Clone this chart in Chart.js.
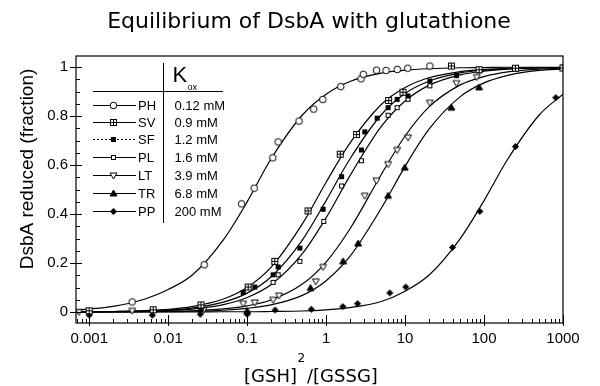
<!DOCTYPE html>
<html><head><meta charset="utf-8">
<script src="https://cdn.jsdelivr.net/npm/chart.js@4/dist/chart.umd.min.js"></script>
<style>html,body{margin:0;padding:0;background:#fff}#wrap{width:600px;height:386px;position:relative}</style>
</head><body><div id="wrap"><canvas id="c" width="600" height="386"></canvas></div>
<script>
// ---- data ----
const SERIES_NAMES = ['PH', 'SV', 'SF', 'PL', 'LT', 'TR', 'PP'];
const KOX_LABELS = ['0.12 mM', '0.9 mM', '1.2 mM', '1.6 mM', '3.9 mM', '6.8 mM', '200 mM'];

const X_TICKS = [0.001, 0.01, 0.1, 1, 10, 100, 1000];
const X_TICK_LABELS = ['0.001', '0.01', '0.1', '1', '10', '100', '1000'];
const Y_TICKS = [0, 0.2, 0.4, 0.6, 0.8, 1];
const Y_TICK_LABELS = ['0', '0.2', '0.4', '0.6', '0.8', '1'];

// measured points
const PH_x = [0.0035, 0.0286, 0.085, 0.123, 0.211, 0.247, 0.454, 0.695, 0.908, 1.53, 2.77, 2.96, 4.34, 5.74, 7.96, 10.8, 20.6];
const PH_y = [0.041, 0.193, 0.442, 0.506, 0.630, 0.695, 0.780, 0.829, 0.868, 0.921, 0.953, 0.971, 0.988, 0.987, 0.991, 0.996, 1.005];
const SV_x = [0.001, 0.00646, 0.026, 0.103, 0.224, 0.59, 1.51, 2.43, 6.2, 9.4, 38.6, 86.5, 250, 1000];
const SV_y = [0.005, 0.009, 0.029, 0.102, 0.207, 0.413, 0.645, 0.725, 0.864, 0.898, 1.005, 0.99, 0.996, 0.997];
const SF_x = [0.026, 0.089, 0.125, 0.213, 0.247, 0.465, 0.916, 1.57, 2.8, 3.09, 4.43, 6.1, 7.93, 10.9, 20.6, 44.7, 86.5, 250, 1000];
const SF_y = [0.010, 0.080, 0.102, 0.152, 0.184, 0.261, 0.420, 0.553, 0.662, 0.736, 0.792, 0.835, 0.869, 0.883, 0.944, 0.966, 0.990, 0.996, 1.0];
const PL_x = [0.026, 0.213, 0.247, 0.465, 0.935, 1.57, 2.8, 6.1, 7.93, 10.9, 20.6, 86.5, 250];
const PL_y = [0.012, 0.121, 0.152, 0.207, 0.370, 0.515, 0.618, 0.804, 0.835, 0.869, 0.924, 0.985, 0.995];
const LT_x = [0.00074, 0.0035, 0.028, 0.089, 0.125, 0.213, 0.253, 0.74, 0.916, 3.09, 4.34, 6.1, 7.93, 10.9, 20.6, 44.7, 81];
const LT_y = [0.0, 0.005, 0.008, 0.034, 0.039, 0.050, 0.067, 0.125, 0.184, 0.475, 0.537, 0.604, 0.662, 0.713, 0.855, 0.935, 0.960];
const TR_x = [0.1, 0.635, 1.64, 2.54, 6.1, 9.9, 38.6, 86.5, 1000];
const TR_y = [0.004, 0.098, 0.207, 0.280, 0.475, 0.590, 0.835, 0.918, 1.0];
const PP_x = [0.001, 0.0063, 0.0255, 0.1, 0.226, 0.65, 1.63, 2.5, 6.4, 10.2, 39.8, 88.3, 250, 810];
const PP_y = [-0.013, -0.013, -0.009, -0.009, 0.008, 0.011, 0.022, 0.034, 0.078, 0.102, 0.264, 0.411, 0.676, 0.876];

// fitted curves read at these x positions
const CURVE_X = [0.00068, 0.001, 0.002, 0.005, 0.01, 0.02, 0.05, 0.1, 0.2, 0.5, 1, 2, 5, 10, 20, 50, 100, 200, 500, 1000];
const PH_fit = [0.008, 0.012, 0.023, 0.052, 0.092, 0.150, 0.295, 0.450, 0.625, 0.805, 0.890, 0.942, 0.976, 0.988, 0.994, 0.998, 0.999, 1.0, 1.0, 1.0];
const SV_fit = [0.001, 0.001, 0.002, 0.006, 0.011, 0.022, 0.053, 0.100, 0.182, 0.360, 0.530, 0.690, 0.848, 0.917, 0.957, 0.982, 0.991, 0.996, 0.998, 0.999];
const SF_fit = [0.001, 0.001, 0.002, 0.004, 0.008, 0.016, 0.040, 0.077, 0.143, 0.294, 0.455, 0.625, 0.806, 0.893, 0.943, 0.977, 0.988, 0.994, 0.998, 0.999];
const PL_fit = [0.0, 0.001, 0.001, 0.003, 0.006, 0.012, 0.030, 0.059, 0.111, 0.238, 0.385, 0.556, 0.758, 0.862, 0.926, 0.969, 0.984, 0.992, 0.997, 0.998];
const LT_fit = [0.0, 0.0, 0.001, 0.001, 0.003, 0.005, 0.013, 0.025, 0.049, 0.114, 0.204, 0.339, 0.562, 0.719, 0.837, 0.928, 0.962, 0.981, 0.992, 0.996];
const TR_fit = [0.0, 0.0, 0.0, 0.001, 0.001, 0.003, 0.007, 0.015, 0.029, 0.068, 0.128, 0.227, 0.424, 0.595, 0.746, 0.880, 0.936, 0.967, 0.987, 0.993];
const PP_fit = [0.0, 0.0, 0.0, 0.0, 0.0, 0.0, 0.001, 0.001, 0.002, 0.004, 0.009, 0.018, 0.043, 0.085, 0.150, 0.300, 0.455, 0.625, 0.805, 0.890];

// ---- markers ----
function mk(draw){ const s = 11; const c = document.createElement('canvas'); c.width = s; c.height = s; const g = c.getContext('2d'); g.translate(5.5, 5.5); g.strokeStyle = '#000'; g.fillStyle = '#000'; g.lineWidth = 1; draw(g); return c; }
const MARKS = [
  mk(g => { g.beginPath(); g.arc(0, 0, 3.3, 0, Math.PI * 2); g.fillStyle = '#fff'; g.fill(); g.stroke(); }),
  mk(g => { g.fillStyle = '#fff'; g.fillRect(-3, -3, 6, 6); g.strokeRect(-3, -3, 6, 6); g.beginPath(); g.moveTo(-3, 0); g.lineTo(3, 0); g.moveTo(0, -3); g.lineTo(0, 3); g.stroke(); }),
  mk(g => { g.fillRect(-2.5, -2.5, 5, 5); }),
  mk(g => { g.fillStyle = '#fff'; g.fillRect(-2, -2, 4, 4); g.strokeRect(-2, -2, 4, 4); }),
  mk(g => { g.beginPath(); g.moveTo(-3.5, -2.5); g.lineTo(3.5, -2.5); g.lineTo(0, 3.5); g.closePath(); g.fillStyle = '#fff'; g.fill(); g.stroke(); }),
  mk(g => { g.beginPath(); g.moveTo(-3.5, 2.5); g.lineTo(3.5, 2.5); g.lineTo(0, -3.5); g.closePath(); g.fill(); g.stroke(); }),
  mk(g => { g.beginPath(); g.moveTo(0, -3.6); g.lineTo(3.6, 0); g.lineTo(0, 3.6); g.lineTo(-3.6, 0); g.closePath(); g.fill(); })
];

const PTS_X = [PH_x, SV_x, SF_x, PL_x, LT_x, TR_x, PP_x];
const PTS_Y = [PH_y, SV_y, SF_y, PL_y, LT_y, TR_y, PP_y];
const FITS = [PH_fit, SV_fit, SF_fit, PL_fit, LT_fit, TR_fit, PP_fit];

const datasets = [];
SERIES_NAMES.forEach((n, i) => {
  datasets.push({
    label: n + ' fit', data: CURVE_X.map((x, j) => ({ x, y: FITS[i][j] })),
    showLine: true, borderColor: '#000', borderWidth: 1.2, pointRadius: 0, pointHoverRadius: 0,
    cubicInterpolationMode: 'monotone', fill: false, order: 2
  });
  datasets.push({
    label: n, data: PTS_X[i].map((x, j) => ({ x, y: PTS_Y[i][j] })),
    showLine: false, pointStyle: MARKS[i], pointRadius: 4, order: 1
  });
});

const decor = {
  id: 'decor',
  beforeDraw(chart) { const c = chart.ctx; c.save(); c.fillStyle = '#fff'; c.fillRect(0, 0, chart.width, chart.height); c.restore(); },
  afterDraw(chart) {
    const ctx = chart.ctx, a = chart.chartArea, xs = chart.scales.x, ys = chart.scales.y;
    ctx.save();
    ctx.strokeStyle = '#000'; ctx.fillStyle = '#000';
    ctx.lineWidth = 1.2;
    ctx.strokeRect(a.left, a.top, a.right - a.left, a.bottom - a.top);
    ctx.lineWidth = 1;
    ctx.beginPath();
    for (const v of X_TICKS) { const x = Math.round(xs.getPixelForValue(v)) + 0.5; ctx.moveTo(x, a.bottom - 8); ctx.lineTo(x, a.bottom + 3); }
    for (let e = -4; e <= 2; e++) for (let k = 2; k <= 9; k++) {
      const v = k * Math.pow(10, e); if (v < xs.min || v > xs.max) continue;
      const x = Math.round(xs.getPixelForValue(v)) + 0.5; ctx.moveTo(x, a.bottom - 4); ctx.lineTo(x, a.bottom);
    }
    for (const v of Y_TICKS) { const y = Math.round(ys.getPixelForValue(v)) + 0.5; ctx.moveTo(a.left - 6, y); ctx.lineTo(a.left + 6, y); }
    for (let i = 1; i < 20; i++) { if (i % 4 === 0) continue; const y = Math.round(ys.getPixelForValue(i * 0.05)) + 0.5; ctx.moveTo(a.left, y); ctx.lineTo(a.left + 4, y); }
    ctx.stroke();

    // legend table
    const rows = [105, 122, 139, 157, 175, 193, 211];
    ctx.font = '13px "Liberation Sans", Arial, sans-serif';
    ctx.textBaseline = 'middle'; ctx.textAlign = 'left';
    SERIES_NAMES.forEach((n, i) => {
      const y = rows[i] + 0.5;
      ctx.beginPath(); ctx.setLineDash(i === 2 ? [2, 2] : []);
      ctx.moveTo(93, y); ctx.lineTo(136, y); ctx.stroke(); ctx.setLineDash([]);
      ctx.drawImage(MARKS[i], 113 - 5, rows[i] - 5);
      ctx.fillText(n, 138, y + 1);
      ctx.fillText(KOX_LABELS[i], 174.5, y + 1);
    });
    ctx.beginPath();
    ctx.moveTo(163.5, 63); ctx.lineTo(163.5, 223);
    ctx.moveTo(93, 91.5); ctx.lineTo(223, 91.5);
    ctx.stroke();
    ctx.textBaseline = 'alphabetic';
    ctx.font = '22px "Liberation Sans", Arial, sans-serif';
    ctx.fillText('K', 172.5, 82);
    ctx.font = '9px "Liberation Sans", Arial, sans-serif';
    ctx.fillText('ox', 187.5, 90);

    // chart title
    ctx.font = '22px "DejaVu Sans", sans-serif';
    ctx.textAlign = 'center';
    ctx.fillText('Equilibrium of DsbA with glutathione', 309, 28);

    // x axis title
    ctx.textAlign = 'left';
    ctx.font = '18px "DejaVu Sans", sans-serif';
    ctx.fillText('[GSH]', 244, 382);
    ctx.fillText('/[GSSG]', 307, 382);
    ctx.font = '12px "DejaVu Sans", sans-serif';
    ctx.fillText('2', 297.5, 362);

    // y axis title
    ctx.save();
    ctx.translate(33, 169); ctx.rotate(-Math.PI / 2);
    ctx.textAlign = 'center';
    ctx.font = '19px "Liberation Sans", Arial, sans-serif';
    ctx.fillText('DsbA reduced (fraction)', 0, 0);
    ctx.restore();
    ctx.restore();
  }
};

Chart.defaults.font.family = '"Liberation Sans", Arial, sans-serif';
Chart.defaults.color = '#000';

new Chart(document.getElementById('c'), {
  type: 'scatter',
  data: { datasets },
  options: {
    responsive: false, animation: false, devicePixelRatio: 1,
    layout: { padding: { left: 0, right: 37, top: 56, bottom: 0 } },
    plugins: { legend: { display: false }, tooltip: { enabled: false }, title: { display: false } },
    scales: {
      x: {
        type: 'logarithmic', min: 0.00068, max: 1000,
        afterBuildTicks: s => { s.ticks = X_TICKS.map(v => ({ value: v })); },
        afterFit: s => { s.height = 63; },
        grid: { display: false, drawTicks: false }, border: { display: false },
        ticks: { autoSkip: false, maxRotation: 0, padding: 7, font: { size: 15 },
          callback: v => X_TICK_LABELS[X_TICKS.indexOf(v)] }
      },
      y: {
        type: 'linear', min: -0.045, max: 1.046,
        afterBuildTicks: s => { s.ticks = Y_TICKS.map(v => ({ value: v })); },
        afterFit: s => { s.width = 76; },
        grid: { display: false, drawTicks: false }, border: { display: false },
        ticks: { autoSkip: false, padding: 8, font: { size: 15 },
          callback: v => Y_TICK_LABELS[Y_TICKS.indexOf(v)] }
      }
    }
  },
  plugins: [decor]
});
</script></body></html>
